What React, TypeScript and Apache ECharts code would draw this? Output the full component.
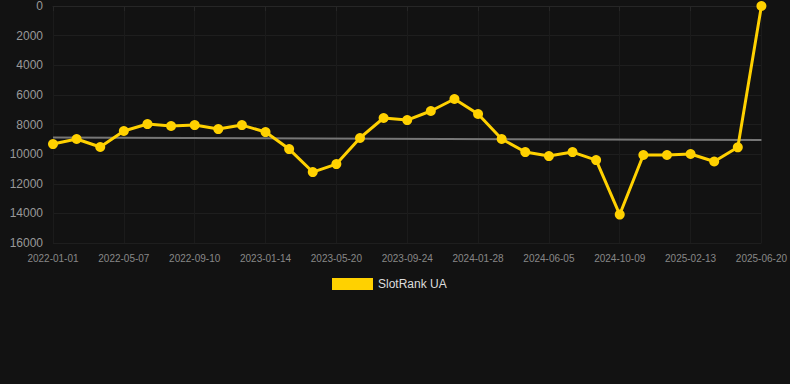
import React, { useEffect, useRef } from "react";
import * as echarts from "echarts";

const dates = [
  "2022-01-01", "2022-02-12", "2022-03-26", "2022-05-07", "2022-06-18", "2022-07-30",
  "2022-09-10", "2022-10-22", "2022-12-03", "2023-01-14", "2023-02-25", "2023-04-08",
  "2023-05-20", "2023-07-01", "2023-08-12", "2023-09-24", "2023-11-05", "2023-12-17",
  "2024-01-28", "2024-03-10", "2024-04-21", "2024-06-05", "2024-07-17", "2024-08-28",
  "2024-10-09", "2024-11-20", "2025-01-01", "2025-02-13", "2025-03-27", "2025-05-08",
  "2025-06-20",
];

const rankValues = [
  9320, 8980, 9520, 8440, 7970, 8100, 8040, 8310, 8040, 8510, 9660, 11210,
  10670, 8910, 7560, 7700, 7090, 6280, 7290, 8980, 9860, 10130, 9860, 10400,
  14080, 10060, 10060, 9990, 10500, 9540, 1,
];

const trendStart = 8880;
const trendEnd = 9050;

const yTicks = { min: 0, max: 16000, interval: 2000 };

export default function App() {
  const ref = useRef<HTMLDivElement>(null);
  useEffect(() => {
    document.body.style.margin = "0";
    document.body.style.background = "#121212";
    if (!ref.current) return;
    const chart = echarts.init(ref.current, undefined, { renderer: "svg" });
    chart.setOption({
      animation: false,
      backgroundColor: "#121212",
      grid: { left: 53, right: 28, top: 6, bottom: 141 },
      legend: {
        show: true,
        top: 273,
        left: 327,
        itemWidth: 41,
        itemHeight: 12,
        itemGap: 10,
        icon: "rect",
        textStyle: { color: "#dddddd", fontSize: 12, fontFamily: "Liberation Sans, Arial, sans-serif" },
        data: ["SlotRank UA"],
      },
      xAxis: {
        type: "category",
        data: dates,
        boundaryGap: false,
        axisLine: { show: true, lineStyle: { color: "#262626" } },
        axisTick: { show: true, interval: 2, length: 5, lineStyle: { color: "#262626" } },
        axisLabel: {
          interval: 2,
          color: "#888888",
          fontSize: 10,
          margin: 10,
          fontFamily: "Liberation Sans, Arial, sans-serif",
        },
        splitLine: { show: true, interval: 2, lineStyle: { color: "#1b1b1b" } },
      },
      yAxis: {
        type: "value",
        inverse: true,
        min: yTicks.min,
        max: yTicks.max,
        interval: yTicks.interval,
        axisLine: { show: false },
        axisTick: { show: false },
        axisLabel: {
          color: "#999999",
          fontSize: 12,
          margin: 10,
          formatter: (v: number) => String(v),
          fontFamily: "Liberation Sans, Arial, sans-serif",
        },
        splitLine: { show: true, lineStyle: { color: "#1e1e1e" } },
      },
      series: [
        {
          name: "SlotRank UA",
          type: "line",
          data: rankValues,
          color: "#FFD100",
          lineStyle: { width: 3, color: "#FFD100" },
          itemStyle: { color: "#FFD100" },
          symbol: "circle",
          symbolSize: 10,
          z: 3,
          markLine: {
            silent: true,
            symbol: ["none", "none"],
            label: { show: false },
            lineStyle: { color: "#777777", width: 2, type: "solid" },
            data: [
              [
                { coord: [dates[0], trendStart] },
                { coord: [dates[dates.length - 1], trendEnd] },
              ],
            ],
            z: 1,
          },
        },
      ],
    });
    return () => chart.dispose();
  }, []);
  return <div ref={ref} style={{ width: 790, height: 384 }} />;
}
